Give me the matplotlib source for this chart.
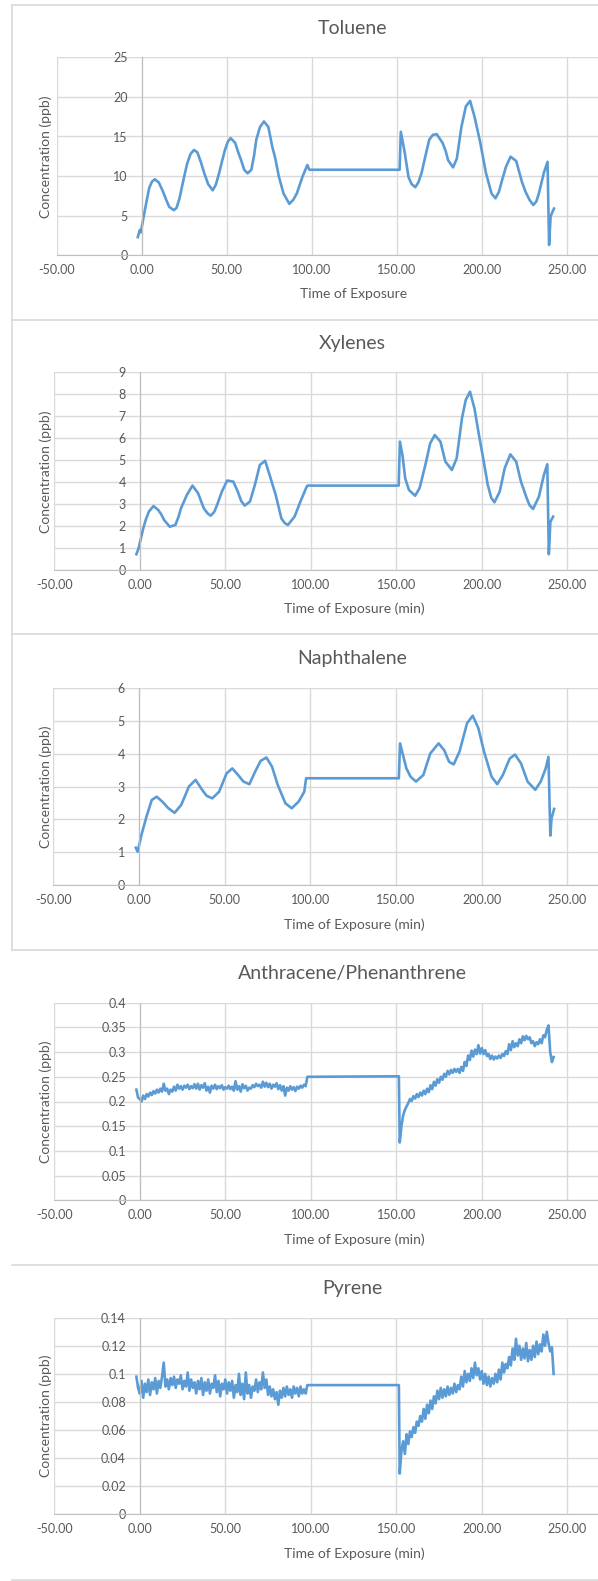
import numpy as np
import matplotlib.pyplot as plt
from matplotlib.lines import Line2D
from matplotlib.ticker import FuncFormatter

plt.rcParams['font.family'] = ['Lato', 'DejaVu Sans']

W, H = 598, 1581
BLUE = '#5B9BD5'
TXT = '#595959'
GRID = '#D9D9D9'

# ---- data (time in min, concentration in ppb) ----
toluene_t = [-2.3, -1.1, -0.5, 1.5, 3, 4.4, 6, 7.7, 10, 12.2, 14.2, 16.2, 18.9, 20.5, 22.2, 24.5,
             26.7, 28.7, 30.7, 32.7, 34.7, 36.7, 39, 41.7, 43.5, 45.5, 47.2, 48.9, 50.5, 52.2,
             54.9, 56.7, 58.4, 60.2, 62.2, 64.4, 66, 67.3, 69.5, 71.8, 74.4, 76.7, 78.5, 80.5,
             83.3, 86.7, 89, 91.1, 94.4, 97.3, 98.5, 151.5, 152.2, 154.4, 156.7, 158.5, 160.7,
             162.5, 164.4, 166.5, 168.9, 171, 173.3, 176.7, 178.5, 180, 182.9, 185.1, 187.8,
             190.4, 192.9, 195.5, 198.9, 202.2, 205.5, 207.8, 209.8, 211.7, 214, 216.7, 220,
             223.3, 225.5, 227.8, 230, 231.8, 233.3, 236.2, 238.4, 239.3, 240.2, 241.1, 242.2]
toluene_v = [2.3, 3.2, 2.9, 5.3, 7.0, 8.5, 9.3, 9.6, 9.2, 8.2, 7.1, 6.1, 5.7, 6.0, 7.2, 9.5,
             11.6, 12.8, 13.3, 13.0, 11.8, 10.4, 9.0, 8.2, 8.9, 10.4, 11.9, 13.3, 14.3, 14.8,
             14.2, 13.0, 12.0, 10.8, 10.35, 10.8, 12.6, 14.6, 16.2, 16.9, 16.2, 13.7, 12.2, 10.0,
             7.8, 6.5, 7.0, 7.8, 9.9, 11.4, 10.8, 10.8, 15.6, 13.1, 9.9, 9.0, 8.6,
             9.2, 10.4, 12.4, 14.6, 15.2, 15.3, 14.2, 13.2, 12.0, 11.1, 12.2, 16.2,
             18.8, 19.5, 17.5, 14.2, 10.4, 7.8, 7.2, 8.0, 9.5, 11.2, 12.45, 11.9,
             9.3, 8.0, 7.0, 6.35, 6.8, 7.8, 10.4, 11.8, 1.3, 4.9, 5.4, 5.9]

xylenes_t = [-2, -0.7, 2, 3.5, 5.3, 8, 10.8, 12.5, 14.2, 17.5, 20.8, 22.5, 24.1, 27.5, 30.8,
             34.1, 37.4, 39.5, 41.4, 43.5, 45.2, 48, 51.1, 54.7, 57.3, 59.3, 61.3, 64.4, 67.3,
             70.2, 73.3, 76.2, 79.5, 82.8, 84.7, 86.6, 90.5, 93.9, 97.2, 98, 151.4, 152.1,
             153.6, 155.2, 157.4, 161, 163.6, 167, 169.8, 172.5, 175.8, 178.7, 182.5, 185.3,
             188.4, 190.6, 193.1, 195.7, 198, 200.8, 203.5, 205.5, 207.4, 210.5, 213.4, 216.7,
             220.1, 222.9, 226.3, 228, 230, 233.4, 236.3, 238.3, 239.2, 240.1, 241.7]
xylenes_v = [0.73, 1.0, 1.9, 2.3, 2.67, 2.92, 2.74, 2.55, 2.29, 1.98, 2.06, 2.4, 2.82, 3.42, 3.85,
             3.5, 2.82, 2.6, 2.48, 2.65, 2.97, 3.58, 4.08, 4.03, 3.58, 3.15, 2.94, 3.12, 3.88,
             4.79, 4.98, 4.26, 3.42, 2.36, 2.15, 2.06, 2.44, 3.12, 3.73, 3.85, 3.85, 5.85,
             5.24, 4.18, 3.65, 3.39, 3.73, 4.79, 5.77, 6.15, 5.85, 4.94, 4.56, 5.09,
             6.91, 7.74, 8.12, 7.36, 6.3, 5.09, 3.88, 3.3, 3.09, 3.58, 4.64, 5.27,
             4.94, 4.03, 3.27, 2.95, 2.79, 3.35, 4.33, 4.82, 0.73, 2.2, 2.44]

naph_t = [-1.8, -0.7, 1.5, 4.4, 7.5, 10.4, 13.7, 17, 20.8, 24.7, 29.2, 33.1, 36.9, 39.5, 42.8,
          46.8, 51.2, 54.5, 57.9, 61, 64.5, 67.8, 71.1, 74.4, 77.7, 81, 85.5, 89.2, 93.2, 96.5,
          97.6, 151.7, 152.4, 153.9, 156.1, 158.5, 161.7, 166, 170, 174.9, 178.2, 181, 183.7,
          187.1, 191.5, 194.8, 198.1, 201.4, 205.8, 209.1, 212.4, 216.4, 219.5, 223, 226.8,
          231.3, 234.5, 237.4, 239, 240.1, 240.8, 242.3]
naph_v = [1.14, 1.02, 1.53, 2.08, 2.59, 2.69, 2.54, 2.35, 2.2, 2.44, 3.0, 3.2, 2.9, 2.72, 2.64,
          2.84, 3.4, 3.55, 3.35, 3.15, 3.07, 3.45, 3.78, 3.88, 3.6, 3.05, 2.49, 2.34, 2.54, 2.84,
          3.25, 3.25, 4.31, 4.0, 3.55, 3.3, 3.15, 3.35, 4.0, 4.31, 4.1, 3.75, 3.67,
          4.06, 4.92, 5.15, 4.77, 4.06, 3.3, 3.07, 3.35, 3.85, 3.97, 3.7, 3.15,
          2.9, 3.15, 3.55, 3.9, 1.51, 2.03, 2.32]

# noisy series: one reading per minute from -2 to 98 and from 152 to 242
noisy_t = list(range(-2, 99)) + [151.5] + list(range(152, 243))

anthr_v = [0.224, 0.208, 0.205, 0.200, 0.212, 0.205, 0.215, 0.210, 0.218, 0.213, 0.221, 0.216,
           0.224, 0.218, 0.226, 0.220, 0.236, 0.222, 0.226, 0.215, 0.224, 0.220, 0.230, 0.222,
           0.234, 0.226, 0.231, 0.224, 0.232, 0.228, 0.234, 0.225, 0.231, 0.227, 0.235, 0.226,
           0.236, 0.224, 0.233, 0.228, 0.237, 0.222, 0.230, 0.218, 0.232, 0.226, 0.234, 0.225,
           0.231, 0.227, 0.233, 0.224, 0.229, 0.226, 0.232, 0.225, 0.230, 0.222, 0.241, 0.224,
           0.231, 0.220, 0.235, 0.227, 0.232, 0.222, 0.228, 0.226, 0.233, 0.229, 0.236, 0.231,
           0.234, 0.228, 0.240, 0.230, 0.238, 0.229, 0.236, 0.226, 0.234, 0.230, 0.237, 0.225,
           0.233, 0.222, 0.231, 0.212, 0.228, 0.222, 0.231, 0.224, 0.229, 0.221, 0.230, 0.226,
           0.232, 0.228, 0.234, 0.231, 0.250,
           0.251,
           0.117, 0.150, 0.172, 0.183, 0.190, 0.197, 0.205, 0.201, 0.211, 0.206, 0.215, 0.209,
           0.218, 0.212, 0.222, 0.215, 0.226, 0.219, 0.233, 0.225, 0.240, 0.232, 0.245, 0.238,
           0.250, 0.244, 0.256, 0.250, 0.262, 0.255, 0.264, 0.258, 0.266, 0.260, 0.266, 0.258,
           0.270, 0.262, 0.280, 0.272, 0.293, 0.284, 0.303, 0.291, 0.305, 0.296, 0.314, 0.297,
           0.308, 0.296, 0.304, 0.292, 0.296, 0.286, 0.293, 0.285, 0.291, 0.287, 0.293, 0.288,
           0.296, 0.292, 0.302, 0.296, 0.316, 0.304, 0.322, 0.310, 0.318, 0.312, 0.326, 0.318,
           0.332, 0.324, 0.333, 0.326, 0.330, 0.318, 0.322, 0.312, 0.320, 0.316, 0.326, 0.318,
           0.334, 0.330, 0.345, 0.354, 0.300, 0.280, 0.290]

pyrene_v = [0.098, 0.090, 0.086, 0.095, 0.083, 0.093, 0.087, 0.096, 0.085, 0.094, 0.089, 0.097,
            0.086, 0.095, 0.090, 0.098, 0.108, 0.091, 0.096, 0.089, 0.097, 0.092, 0.098, 0.090,
            0.096, 0.093, 0.099, 0.089, 0.095, 0.091, 0.101, 0.088, 0.096, 0.090, 0.094, 0.086,
            0.095, 0.089, 0.097, 0.085, 0.094, 0.088, 0.096, 0.086, 0.093, 0.090, 0.099, 0.087,
            0.095, 0.084, 0.093, 0.089, 0.096, 0.086, 0.094, 0.088, 0.095, 0.083, 0.092, 0.087,
            0.100, 0.085, 0.093, 0.082, 0.101, 0.086, 0.092, 0.083, 0.091, 0.088, 0.096, 0.087,
            0.094, 0.089, 0.101, 0.090, 0.096, 0.085, 0.091, 0.084, 0.089, 0.082, 0.087, 0.078,
            0.088, 0.083, 0.090, 0.084, 0.091, 0.085, 0.089, 0.083, 0.091, 0.086, 0.090, 0.084,
            0.091, 0.086, 0.089, 0.086, 0.092,
            0.092,
            0.029, 0.045, 0.052, 0.043, 0.057, 0.050, 0.059, 0.055, 0.062, 0.058, 0.066, 0.063,
            0.070, 0.066, 0.075, 0.068, 0.078, 0.072, 0.081, 0.075, 0.084, 0.079, 0.088, 0.082,
            0.090, 0.083, 0.089, 0.084, 0.091, 0.085, 0.090, 0.086, 0.093, 0.087, 0.092, 0.089,
            0.098, 0.091, 0.102, 0.094, 0.100, 0.095, 0.104, 0.097, 0.108, 0.099, 0.104, 0.096,
            0.102, 0.093, 0.100, 0.092, 0.098, 0.091, 0.097, 0.093, 0.100, 0.094, 0.103, 0.096,
            0.108, 0.101, 0.107, 0.104, 0.112, 0.106, 0.118, 0.110, 0.125, 0.113, 0.120, 0.110,
            0.118, 0.111, 0.122, 0.109, 0.117, 0.110, 0.120, 0.112, 0.123, 0.114, 0.121, 0.116,
            0.128, 0.120, 0.130, 0.122, 0.116, 0.119, 0.100]

titles = ['Toluene', 'Xylenes', 'Naphthalene', 'Anthracene/Phenanthrene', 'Pyrene']
xlabels = ['Time of Exposure'] + ['Time of Exposure (min)'] * 4
series = [(toluene_t, toluene_v), (xylenes_t, xylenes_v), (naph_t, naph_v),
          (noisy_t, anthr_v), (noisy_t, pyrene_v)]
ymax = [25, 9, 6, 0.4, 0.14]
ystep = [5, 1, 1, 0.05, 0.02]

fig = plt.figure(figsize=(W / 100, H / 100), dpi=100)

# pixel layout of each chart: x of -50, plot top, plot bottom, title y, x-label y
layout = [
    (56.6, 57.3, 255.3, 28.0, 294.0),
    (54.3, 372.3, 570.3, 343.3, 609.0),
    (53.2, 687.7, 885.3, 658.3, 924.3),
    (54.3, 1002.7, 1200.3, 973.3, 1239.3),
    (54.3, 1317.7, 1514.3, 1288.3, 1553.3),
]
x250 = 567.3

for i, (x0, top, bot, ty, xly) in enumerate(layout):
    ax = fig.add_axes([x0 / W, 1 - bot / H, (W - x0) / W, (bot - top) / H])
    scale = (x250 - x0) / 300.0
    xmax = -50 + (W - x0) / scale
    t, v = series[i]
    ax.plot(t, v, color=BLUE, lw=1.9, solid_joinstyle='round')
    ax.set_xlim(-50, xmax)
    ax.set_ylim(0, ymax[i])
    ax.set_xticks(np.arange(-50, 251, 50))
    ax.set_yticks(np.arange(0, ymax[i] + ystep[i] / 2, ystep[i]))
    ax.xaxis.set_major_formatter(FuncFormatter(lambda x, p: '%.2f' % x))
    ax.yaxis.set_major_formatter(FuncFormatter(lambda y, p: '%g' % round(y, 4)))
    ax.grid(True, color=GRID, lw=1.0)
    ax.set_axisbelow(True)
    for s in ['top', 'right']:
        ax.spines[s].set_visible(False)
    ax.spines['left'].set_position(('data', 0))
    ax.spines['left'].set_color('#BFBFBF')
    ax.spines['bottom'].set_color('#BFBFBF')
    ax.tick_params(axis='x', length=0, pad=6, labelsize=9, labelcolor=TXT)
    ax.tick_params(axis='y', length=0, pad=10, labelsize=9, labelcolor=TXT)
    ax.set_facecolor('none')
    ax.patch.set_visible(False)

    fig.text(352 / W, 1 - ty / H, titles[i], ha='center', va='center',
             fontsize=14, color=TXT)
    fig.text(354 / W, 1 - xly / H, xlabels[i], ha='center', va='center',
             fontsize=10, color=TXT)
    fig.text(45.5 / W, 1 - (top + bot) / 2 / H, 'Concentration (ppb)', ha='center',
             va='center', rotation=90, fontsize=10, color=TXT)

# chart frames
for y in [4.7, 319.5, 634.3, 950.0, 1265.0, 1579.5]:
    fig.add_artist(Line2D([12 / W, 1], [1 - y / H] * 2, color=GRID, lw=1.2))
fig.add_artist(Line2D([12 / W] * 2, [1 - 4.7 / H, 1 - 950.0 / H], color=GRID, lw=1.2))

fig.savefig('out.png', dpi=100, facecolor='white')
